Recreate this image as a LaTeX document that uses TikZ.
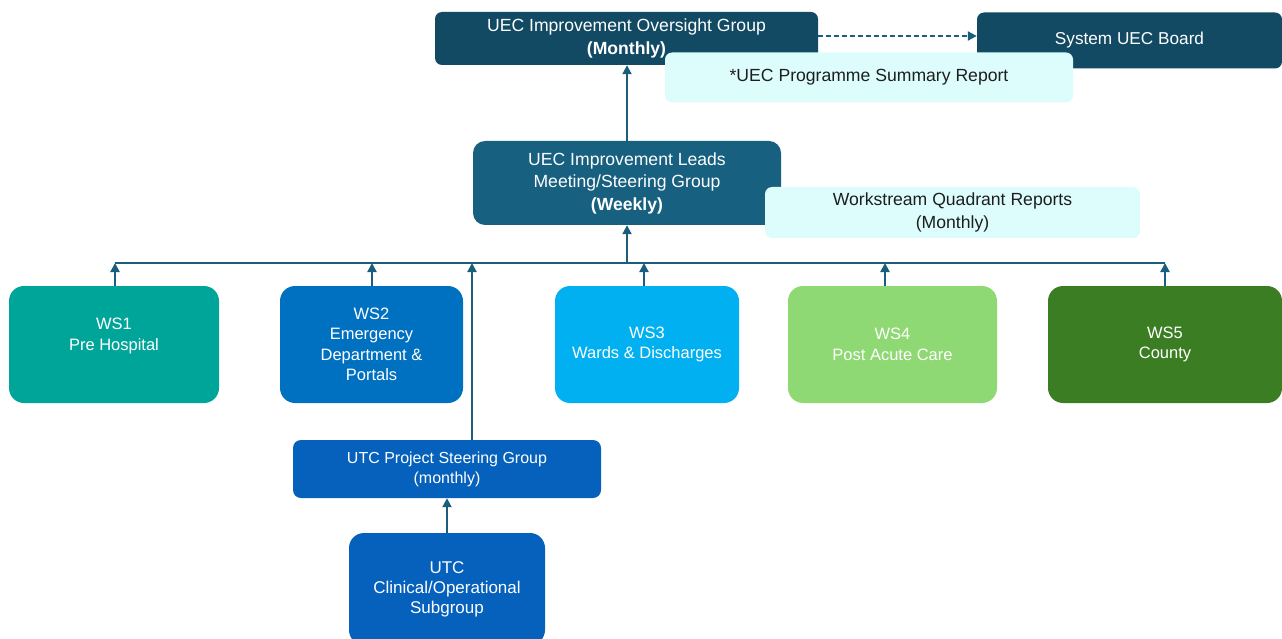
\documentclass[tikz,border=0pt]{standalone}
\usepackage{fontspec}
\setmainfont{Liberation Sans}
\usetikzlibrary{arrows.meta}
\definecolor{navy}{HTML}{124A63}
\definecolor{leadblue}{HTML}{17607F}
\definecolor{paleaqua}{HTML}{DDFDFD}
\definecolor{wsteal}{HTML}{00A59A}
\definecolor{wsblue}{HTML}{0070C0}
\definecolor{wssky}{HTML}{00B0F0}
\definecolor{wslime}{HTML}{8ED973}
\definecolor{wsgreen}{HTML}{3A7D22}
\definecolor{utcblue}{HTML}{0561BC}
\definecolor{linkcol}{HTML}{1A5E7E}
\definecolor{inktext}{HTML}{1E1E1E}
\tikzset{
  box/.style={inner sep=0pt, align=center, text=white},
  topfont/.style={font=\fontsize{17.6}{22.5}\selectfont},
  wsfont/.style={font=\fontsize{16.5}{20.5}\selectfont},
  utcfont/.style={font=\fontsize{16}{20}\selectfont},
  darkbox/.style={box, fill=navy, rounded corners=7pt, topfont},
  notebox/.style={box, fill=paleaqua, text=inktext, rounded corners=7pt, topfont},
  wsbox/.style={box, rounded corners=15pt, minimum width=#1, minimum height=117pt, wsfont},
  link/.style={draw=linkcol, line width=2pt, -{Triangle[length=9pt,width=9pt]}},
  dashlink/.style={link, dash pattern=on 5pt off 3pt},
}
\begin{document}
\begin{tikzpicture}[x=1pt, y=-1pt]
\path[use as bounding box] (0,0) rectangle (1282,639);
\clip (0,0) rectangle (1282,639);

% governance tier
\node[darkbox, minimum width=383pt, minimum height=53pt] (over) at (626.5,38.5)
  {UEC Improvement Oversight Group\\\textbf{(Monthly)}};
\node[darkbox, minimum width=305pt, minimum height=56pt, font=\fontsize{17.2}{21}\selectfont] (board) at (1129.5,40.5)
  {System UEC Board};
\draw[dashlink] (over.east |- 0,36) -- (board.west |- 0,36);
\node[notebox, minimum width=408pt, minimum height=50pt] (summary) at (869,77.5)
  {*UEC Programme Summary Report};

% steering tier
\node[box, fill=leadblue, rounded corners=12pt, topfont, minimum width=308pt, minimum height=84pt] (leads) at (627,183)
  {UEC Improvement Leads\\Meeting/Steering Group\\\textbf{(Weekly)}};
\node[notebox, minimum width=375pt, minimum height=51pt] (quad) at (952.5,212.5)
  {Workstream Quadrant Reports\\(Monthly)};
\draw[link] (leads.north) -- (over.south -| leads.north);

% workstreams
\node[wsbox=210pt, fill=wsteal] (ws1) at (114,344.5) {WS1\\Pre Hospital\\\mbox{}};
\node[wsbox=183pt, fill=wsblue] (ws2) at (371.5,344.5) {WS2\\Emergency\\Department \&\\Portals};
\node[wsbox=184pt, fill=wssky] (ws3) at (647,344.5) {WS3\\Wards \& Discharges};
\node[wsbox=209pt, fill=wslime] (ws4) at (892.5,344.5) {WS4\\Post Acute Care};
\node[wsbox=234pt, fill=wsgreen] (ws5) at (1165,344.5) {WS5\\County};

% UTC groups
\node[box, fill=utcblue, rounded corners=8pt, utcfont, minimum width=308pt, minimum height=58pt] (utcsg) at (447,469)
  {UTC Project Steering Group\\(monthly)};
\node[box, fill=utcblue, rounded corners=15pt, font=\fontsize{17}{20}\selectfont, minimum width=196pt, minimum height=112pt] (utcsub) at (447,589)
  {UTC\\Clinical/Operational\\Subgroup};

% reporting bus
\coordinate (busL) at (115,263);
\coordinate (busR) at (1165,263);
\draw[draw=linkcol, line width=1.7pt] (busL) -- (busR);
\draw[link] (leads.south |- busL) -- (leads.south);
\draw[link] ([xshift=1pt]ws1.north) -- ([xshift=1pt]ws1.north |- busL);
\draw[link] ([xshift=0.5pt]ws2.north) -- ([xshift=0.5pt]ws2.north |- busL);
\draw[link] ([xshift=-3pt]ws3.north) -- ([xshift=-3pt]ws3.north |- busL);
\draw[link] ([xshift=-7.5pt]ws4.north) -- ([xshift=-7.5pt]ws4.north |- busL);
\draw[link] (ws5.north) -- (ws5.north |- busL);
\draw[link] ([xshift=25pt]utcsg.north) -- ([xshift=25pt]utcsg.north |- busL);
\draw[link] (utcsub.north) -- (utcsg.south);
\end{tikzpicture}
\end{document}
